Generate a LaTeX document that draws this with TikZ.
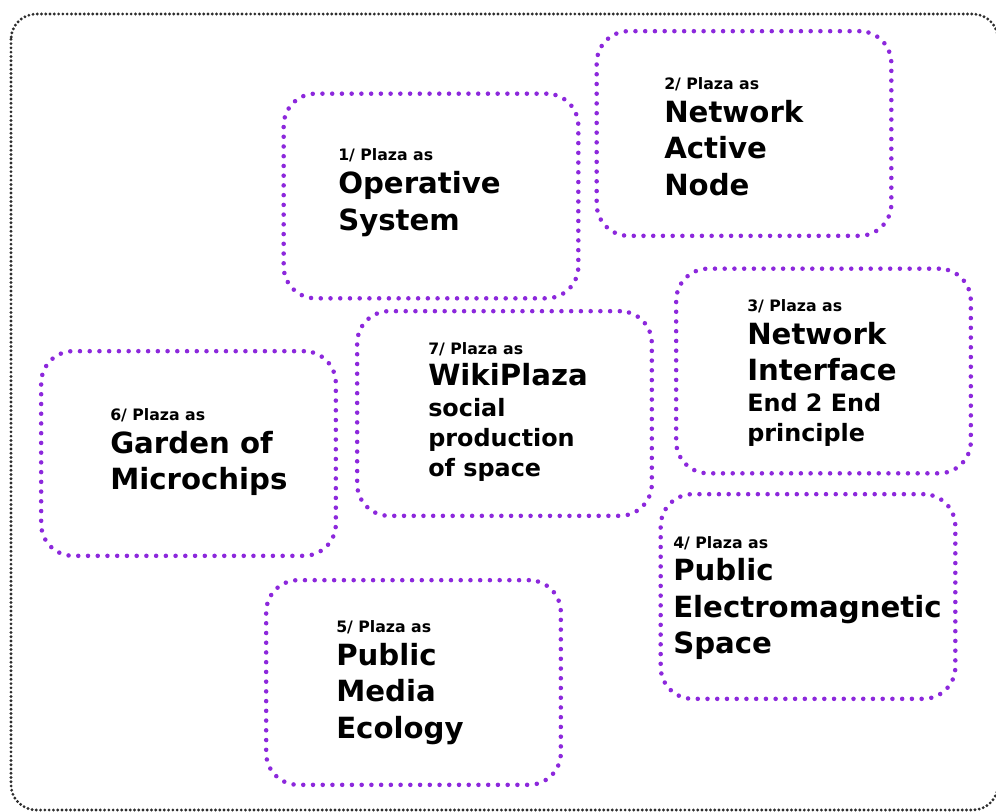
\documentclass[tikz,border=0pt]{standalone}
\usepackage{fontspec}
\setmainfont{DejaVu Sans}
\definecolor{plazapurple}{RGB}{140,40,220}
\definecolor{framegray}{RGB}{45,45,45}
\begin{document}
\begin{tikzpicture}[x=0.75pt,y=-0.75pt,
  plazabox/.style={draw=plazapurple, line width=3.4pt, line cap=round,
    dash pattern=on 0pt off 7.3pt, rounded corners=24pt,
    minimum width=221pt, minimum height=153.5pt, inner sep=0pt, outer sep=0pt},
  small/.style={anchor=base west, inner sep=0pt, font=\fontsize{11.8}{13}\selectfont\bfseries},
  big/.style={anchor=base west, inner sep=0pt, font=\fontsize{21.9}{25}\selectfont\bfseries},
  medium/.style={anchor=base west, inner sep=0pt, font=\fontsize{17.9}{21}\selectfont\bfseries}]
\useasboundingbox (0,0) rectangle (996,811);
\draw[framegray, line width=2.4pt, line cap=round, dash pattern=on 0pt off 3.2pt,
  rounded corners=19pt] (11,14) rectangle (998,810);
% boxes
\node[plazabox] (b1) at (431,196) {};
\node[plazabox] (b2) at (744,133.5) {};
\node[plazabox] (b3) at (823.5,371) {};
\node[plazabox] (b4) at (808,596.5) {};
\node[plazabox] (b5) at (413.5,682.5) {};
\node[plazabox] (b6) at (188.5,453.5) {};
\node[plazabox] (b7) at (504.5,413.5) {};
% box 1
\node[small] (t1a) at (338,160.7) {1/ Plaza as};
\node[big] (t1b) at (338,193.3) {Operative};
\node[big] (t1c) at (338,230) {System};
% box 2
\node[small] (t2a) at (664,89) {2/ Plaza as};
\node[big] (t2b) at (664,122) {Network};
\node[big] (t2c) at (664,158.7) {Active};
\node[big] (t2d) at (664,195.4) {Node};
% box 3
\node[small] (t3a) at (747,311.7) {3/ Plaza as};
\node[big] (t3b) at (747,344) {Network};
\node[big] (t3c) at (747,380.5) {Interface};
\node[medium] (t3d) at (747,411.7) {End 2 End};
\node[medium] (t3e) at (747,441.7) {principle};
% box 4
\node[small] (t4a) at (673,548) {4/ Plaza as};
\node[big] (t4b) at (673,580.3) {Public};
\node[big] (t4c) at (673,617) {Electromagnetic};
\node[big] (t4d) at (673,653.7) {Space};
% box 5
\node[small] (t5a) at (336,632) {5/ Plaza as};
\node[big] (t5b) at (336,665) {Public};
\node[big] (t5c) at (336,701.7) {Media};
\node[big] (t5d) at (336,738.4) {Ecology};
% box 6
\node[small] (t6a) at (110,420) {6/ Plaza as};
\node[big] (t6b) at (110,453) {Garden of};
\node[big] (t6c) at (110,489.7) {Microchips};
% box 7
\node[small] (t7a) at (428,354) {7/ Plaza as};
\node[big] (t7b) at (428,385.5) {WikiPlaza};
\node[medium] (t7c) at (428,416.5) {social};
\node[medium] (t7d) at (428,446.5) {production};
\node[medium] (t7e) at (428,476.5) {of space};
\end{tikzpicture}
\end{document}
